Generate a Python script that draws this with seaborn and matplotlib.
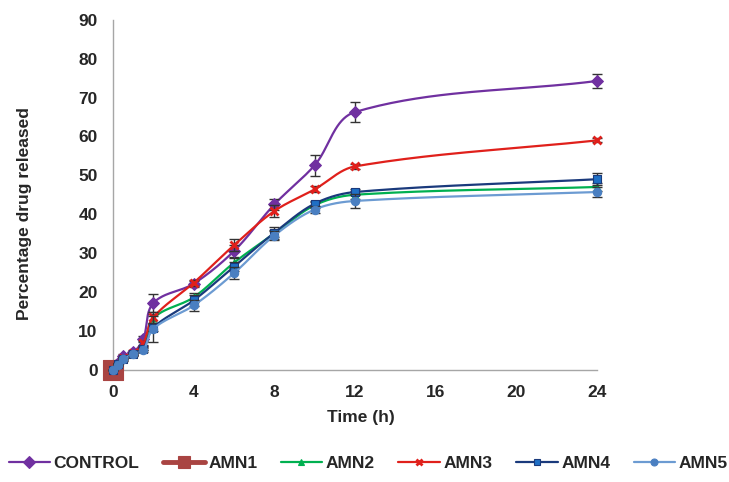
import numpy as np
import pandas as pd
import matplotlib
matplotlib.use("Agg")
import matplotlib.pyplot as plt
from matplotlib.lines import Line2D
import seaborn as sns

# ---------------- data ----------------
time_h = [0, 0.25, 0.5, 1, 1.5, 2, 4, 6, 8, 10, 12, 24]
control = [0, 1.8, 3.5, 4.4, 7.8, 17.1, 22.1, 30.5, 42.5, 52.6, 66.3, 74.3]
amn1_time = [0]
amn1 = [0]
amn2 = [0, 1.4, 2.9, 4.0, 5.6, 13.2, 18.6, 27.5, 35.0, 42.3, 45.0, 47.0]
amn3 = [0, 1.5, 3.0, 4.2, 6.8, 13.4, 22.3, 32.0, 40.8, 46.4, 52.3, 59.0]
amn4 = [0, 1.3, 2.8, 4.0, 5.4, 10.8, 17.8, 26.5, 35.2, 42.7, 45.7, 49.0]
amn5 = [0, 1.2, 2.6, 3.9, 5.0, 10.5, 16.5, 24.8, 34.5, 41.2, 43.4, 45.7]

control_err = [0, 0.3, 0.4, 0.5, 0.8, 2.3, 0.8, 1.5, 1.5, 2.7, 2.6, 1.8]
amn1_err = [0]
amn2_err = [0, 0.2, 0.3, 0.3, 0.5, 1.2, 1.2, 1.3, 1.0, 0.8, 1.0, 1.0]
amn3_err = [0, 0.2, 0.3, 0.4, 0.6, 1.5, 0.8, 1.5, 1.5, 0.8, 0.6, 0.5]
amn4_err = [0, 0.2, 0.3, 0.3, 0.5, 1.0, 1.5, 1.2, 1.5, 0.8, 0.7, 1.5]
amn5_err = [0, 0.2, 0.3, 0.3, 0.5, 3.3, 1.5, 1.5, 1.2, 0.8, 1.8, 1.2]

series_names = ["CONTROL", "AMN1", "AMN2", "AMN3", "AMN4", "AMN5"]
x_ticks = [0, 4, 8, 12, 16, 20, 24]
y_ticks = [0, 10, 20, 30, 40, 50, 60, 70, 80, 90]

# ---------------- style ----------------
sns.set_style("white")
plt.rcParams["font.family"] = ["Liberation Sans", "DejaVu Sans"]
plt.rcParams["font.weight"] = "bold"
FS = 12.5

styles = {
    "CONTROL": dict(line="#7030A0", mk="D", mfc="#7030A0", mec="#7030A0", ms=6, lw=1.6, lms=6, llw=1.6),
    "AMN1": dict(line="#A94442", mk="s", mfc="#A94442", mec="#A94442", ms=14, lw=3.5, lms=9, llw=3.5),
    "AMN2": dict(line="#00B050", mk="^", mfc="#00B050", mec="#00B050", ms=5, lw=1.6, lms=5, llw=1.6),
    "AMN3": dict(line="#E0201B", mk="x", mfc="#E0201B", mec="#E0201B", ms=6, lw=1.6, lms=5, llw=1.6),
    "AMN4": dict(line="#1A3A7C", mk="s", mfc="#1F6FC5", mec="#1A3A7C", ms=6, lw=1.6, lms=5, llw=1.6),
    "AMN5": dict(line="#6C9BD2", mk="o", mfc="#4A7FC1", mec="#4A7FC1", ms=6, lw=1.6, lms=5, llw=1.6),
}

data = {
    "CONTROL": (time_h, control, control_err),
    "AMN1": (amn1_time, amn1, amn1_err),
    "AMN2": (time_h, amn2, amn2_err),
    "AMN3": (time_h, amn3, amn3_err),
    "AMN4": (time_h, amn4, amn4_err),
    "AMN5": (time_h, amn5, amn5_err),
}

# pixel scale of the plot area (used only to shape the smoothed line)
PX_X = 484 / 24.0
PX_Y = 349.5 / 90.0


def smooth_path(x, y, n=40):
    """Excel-like smoothed line through the data points (Bezier, screen-space tangents)."""
    pts = np.column_stack([np.asarray(x, float) * PX_X, np.asarray(y, float) * PX_Y])
    if len(pts) < 2:
        return np.asarray(x, float), np.asarray(y, float)
    out = [pts[0]]
    t = np.linspace(0, 1, n)[1:, None]
    for i in range(len(pts) - 1):
        p0 = pts[i - 1] if i > 0 else pts[i]
        p1, p2 = pts[i], pts[i + 1]
        p3 = pts[i + 2] if i + 2 < len(pts) else pts[i + 1]
        seglen = np.linalg.norm(p2 - p1)
        d1 = p2 - p0
        d2 = p3 - p1
        d1 = d1 / (np.linalg.norm(d1) or 1.0)
        d2 = d2 / (np.linalg.norm(d2) or 1.0)
        c1 = p1 + d1 * seglen / 3.0
        c2 = p2 - d2 * seglen / 3.0
        seg = (1 - t) ** 3 * p1 + 3 * (1 - t) ** 2 * t * c1 + 3 * (1 - t) * t ** 2 * c2 + t ** 3 * p2
        out.extend(seg)
    out = np.array(out)
    return out[:, 0] / PX_X, out[:, 1] / PX_Y


fig = plt.figure(figsize=(7.29, 4.82), dpi=100)
ax = fig.add_axes([113 / 729, 1 - 369.5 / 482, 484 / 729, 349.5 / 482])

z = 2
for name in series_names:
    xs, ys, es = data[name]
    st = styles[name]
    if len(xs) > 1:
        sx, sy = smooth_path(xs, ys)
        sns.lineplot(x=sx, y=sy, sort=False, estimator=None, ax=ax,
                     color=st["line"], linewidth=st["lw"], zorder=z)
    ax.errorbar(xs, ys, yerr=es, fmt="none", ecolor="#333333", elinewidth=1.0,
                capsize=3.5, capthick=1.0, zorder=z + 0.1)
    df = pd.DataFrame({"t": xs, "v": ys})
    if st["mk"] == "x":
        ax.plot(df["t"], df["v"], linestyle="none", marker="x", ms=st["ms"],
                mew=2.0, color=st["mec"], zorder=z + 0.2)
    else:
        sns.scatterplot(data=df, x="t", y="v", ax=ax, marker=st["mk"],
                        s=(st["ms"]) ** 2, color=st["mfc"], edgecolor=st["mec"],
                        linewidth=0.8, zorder=z + 0.2, legend=False)
    z += 1

ax.set_xlim(0, 24)
ax.set_ylim(0, 90)
ax.set_xticks(x_ticks)
ax.set_yticks(y_ticks)
ax.set_xticklabels([str(v) for v in x_ticks], fontsize=FS, fontweight="bold")
ax.set_yticklabels([str(v) for v in y_ticks], fontsize=FS, fontweight="bold")
ax.tick_params(axis="x", length=0, pad=11)
ax.tick_params(axis="y", length=0, pad=11)
for s in ["top", "right"]:
    ax.spines[s].set_visible(False)
for s in ["left", "bottom"]:
    ax.spines[s].set_color("#A6A6A6")
    ax.spines[s].set_linewidth(1.0)
ax.grid(False)
ax.patch.set_alpha(0)
for art in ax.get_children():
    try:
        art.set_clip_on(False)
    except Exception:
        pass

ax.set_xlabel("Time (h)", fontsize=FS, fontweight="bold")
ax.set_ylabel("Percentage drug released", fontsize=FS, fontweight="bold")
ax.xaxis.set_label_coords(0.512, -0.117)
ax.yaxis.set_label_coords(-0.168, 0.446)

handles = []
for name in series_names:
    st = styles[name]
    handles.append(Line2D([0], [0], color=st["line"], linewidth=st["llw"],
                          marker=st["mk"], markersize=st["lms"],
                          markerfacecolor=st["mfc"], markeredgecolor=st["mec"],
                          markeredgewidth=2.0 if st["mk"] == "x" else 0.8))
fig.legend(handles, series_names, loc="center", bbox_to_anchor=(0.505, 1 - 463 / 482),
           ncol=6, frameon=False, numpoints=1, handlelength=2.4, handletextpad=0.2,
           columnspacing=1.35, borderaxespad=0, borderpad=0,
           prop={"size": FS, "weight": "bold"})

fig.savefig("out.png", dpi=100)
